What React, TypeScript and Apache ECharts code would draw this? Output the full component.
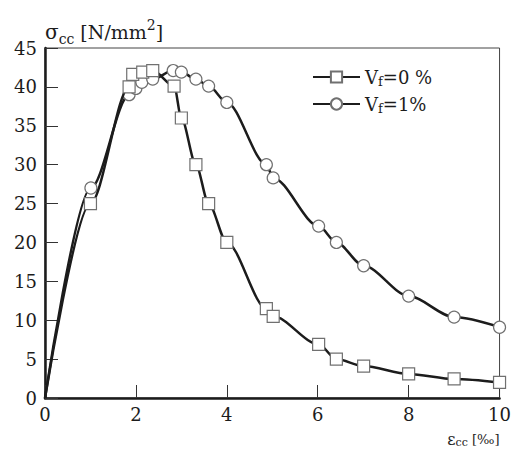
import React, { useEffect, useRef } from "react";
import * as echarts from "echarts";

const seriesNames = ["Vf=0 %", "Vf=1%"];
const strainVf0 = [0, 1.0, 1.85, 1.93, 2.15, 2.37, 2.84, 3.0, 3.32, 3.6, 4.0, 4.87, 5.02, 6.02, 6.41, 7.01, 8.0, 9.0, 10.0];
const stressVf0 = [0, 25, 40, 41.6, 41.9, 42.1, 40.1, 36, 30, 25, 20, 11.5, 10.5, 6.9, 5.0, 4.1, 3.1, 2.45, 2.0];
const strainVf1 = [0, 1.01, 1.85, 2.0, 2.13, 2.37, 2.82, 3.0, 3.32, 3.6, 4.0, 4.87, 5.02, 6.02, 6.41, 7.01, 8.0, 9.0, 10.0];
const stressVf1 = [0, 27, 39, 39.8, 40.6, 41, 42.1, 41.9, 41, 40.1, 38, 30, 28.3, 22.1, 20, 17, 13.1, 10.4, 9.1];

const FONT = "DejaVu Serif";
const INK = "#1c1c1c";

function buildData(xs: number[], ys: number[]) {
  return xs.map((x, i) =>
    x === 0 && ys[i] === 0 ? { value: [x, ys[i]], symbol: "none" } : { value: [x, ys[i]] }
  );
}

export default function App() {
  const ref = useRef<HTMLDivElement>(null);
  useEffect(() => {
    if (!ref.current) return;
    const chart = echarts.init(ref.current, null, { renderer: "svg" });
    const lineStyle = { color: INK, width: 2.5 };
    const markerStyle = { color: "#ffffff", borderColor: "#707070", borderWidth: 1.2 };
    chart.setOption({
      animation: false,
      backgroundColor: "#ffffff",
      grid: {
        left: 45,
        top: 48,
        width: 455,
        height: 350,
        show: true,
        borderColor: "#444444",
        borderWidth: 1,
        backgroundColor: "transparent",
      },
      legend: {
        left: 307,
        top: 63,
        orient: "vertical",
        itemWidth: 47,
        itemHeight: 14,
        itemGap: 7,
        selectedMode: false,
        data: seriesNames,
        formatter: (name: string) => {
          const rest = name.slice(2);
          return "{v|V}{s|f}{v|" + rest + "}";
        },
        textStyle: {
          fontFamily: FONT,
          color: INK,
          rich: {
            v: { fontFamily: FONT, fontSize: 18, color: INK, lineHeight: 22, verticalAlign: "middle" },
            s: { fontFamily: FONT, fontSize: 13, color: INK, lineHeight: 22, verticalAlign: "bottom" },
          },
        },
      },
      xAxis: {
        type: "value",
        min: 0,
        max: 10,
        interval: 2,
        name: "{e|ε}{s|cc}{t| [‰]}",
        nameLocation: "end",
        nameGap: 0,
        nameTextStyle: {
          align: "right",
          verticalAlign: "top",
          padding: [32, 0, 0, 0],
          rich: {
            e: { fontFamily: FONT, fontSize: 16, color: INK, lineHeight: 18, verticalAlign: "middle" },
            s: { fontFamily: FONT, fontSize: 11, color: INK, lineHeight: 18, verticalAlign: "bottom" },
            t: { fontFamily: FONT, fontSize: 13, color: INK, lineHeight: 18, verticalAlign: "middle" },
          },
        },
        axisLine: { show: true, lineStyle: { color: INK, width: 2.5 } },
        axisTick: { show: true, inside: true, length: 13, lineStyle: { color: "#333", width: 1 } },
        axisLabel: { fontFamily: FONT, fontSize: 18, color: INK, margin: 7 },
        splitLine: { show: false },
      },
      yAxis: {
        type: "value",
        min: 0,
        max: 45,
        interval: 5,
        name: "{g|σ}{s|cc}{t| [N/mm}{p|2}{t|]}",
        nameLocation: "end",
        nameGap: 2,
        nameTextStyle: {
          align: "left",
          verticalAlign: "bottom",
          rich: {
            g: { fontFamily: FONT, fontSize: 20, color: INK, lineHeight: 28, verticalAlign: "middle" },
            s: { fontFamily: FONT, fontSize: 14, color: INK, lineHeight: 28, verticalAlign: "bottom" },
            t: { fontFamily: FONT, fontSize: 19, color: INK, lineHeight: 28, verticalAlign: "middle" },
            p: { fontFamily: FONT, fontSize: 14, color: INK, lineHeight: 28, verticalAlign: "top" },
          },
        },
        axisLine: { show: true, lineStyle: { color: INK, width: 2.5 } },
        axisTick: { show: true, inside: true, length: 13, lineStyle: { color: "#333", width: 1 } },
        axisLabel: { fontFamily: FONT, fontSize: 18, color: INK, margin: 8 },
        splitLine: { show: false },
      },
      series: [
        {
          name: seriesNames[0],
          type: "line",
          data: buildData(strainVf0, stressVf0),
          smooth: 0.3,
          smoothMonotone: "x",
          symbol: "rect",
          symbolSize: 12,
          lineStyle,
          itemStyle: markerStyle,
          z: 3,
        },
        {
          name: seriesNames[1],
          type: "line",
          data: buildData(strainVf1, stressVf1),
          smooth: 0.3,
          smoothMonotone: "x",
          symbol: "circle",
          symbolSize: 12,
          lineStyle,
          itemStyle: markerStyle,
          z: 2,
        },
      ],
    });
    return () => chart.dispose();
  }, []);
  return (
    <div
      ref={ref}
      style={{ position: "fixed", left: 0, top: 0, width: 514, height: 450, background: "#fff" }}
    />
  );
}
